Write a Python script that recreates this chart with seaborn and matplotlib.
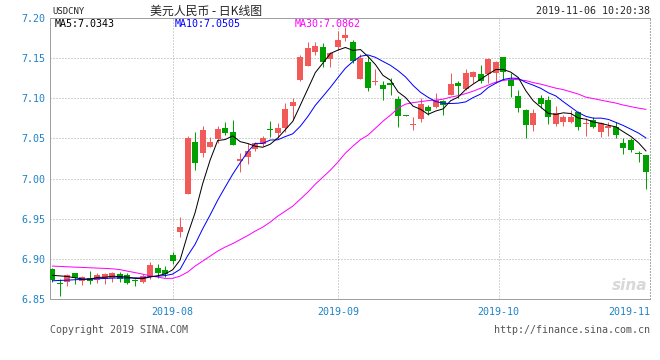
import numpy as np
import pandas as pd
import matplotlib
matplotlib.use("Agg")
import matplotlib.pyplot as plt
import seaborn as sns

# daily candles, USD/CNY
open_ = [6.8872, 6.8700, 6.8714, 6.8820, 6.8727, 6.8764, 6.8735, 6.8748, 6.8756, 6.8810,
         6.8798, 6.8727, 6.8714, 6.8769, 6.8888, 6.8860, 6.9047, 6.9337, 6.9803, 7.0454,
         7.0313, 7.0395, 7.0488, 7.0632, 7.0578, 7.0221, 7.0263, 7.0363, 7.0429, 7.0616,
         7.0570, 7.0625, 7.0906, 7.1226, 7.1404, 7.1579, 7.1633, 7.1488, 7.1633, 7.1745,
         7.1703, 7.1239, 7.1454, 7.1201, 7.1160, 7.1195, 7.0989, 7.0786, 7.0666, 7.0737,
         7.0886, 7.0894, 7.0965, 7.1043, 7.1192, 7.1110, 7.1267, 7.1301, 7.1297, 7.1310,
         7.1516, 7.1226, 7.1027, 7.0852, 7.0672, 7.1002, 7.0983, 7.0674, 7.0707, 7.0707,
         7.0824, 7.0674, 7.0728, 7.0582, 7.0632, 7.0644, 7.0438, 7.0479, 7.0313, 7.0292]
high = [6.8881, 6.8744, 6.8810, 6.8826, 6.8785, 6.8847, 6.8819, 6.8819, 6.8839, 6.8839,
        6.8819, 6.8748, 6.8810, 6.8963, 6.8935, 6.8913, 6.9080, 6.9524, 7.0529, 7.0582,
        7.0657, 7.0512, 7.0657, 7.0699, 7.0728, 7.0313, 7.0438, 7.0454, 7.0529, 7.0715,
        7.0687, 7.0936, 7.0998, 7.1537, 7.1703, 7.1696, 7.1683, 7.1579, 7.1840, 7.1889,
        7.1724, 7.1550, 7.1525, 7.1359, 7.1210, 7.1247, 7.1027, 7.0786, 7.0769, 7.0998,
        7.0921, 7.1064, 7.0977, 7.1313, 7.1214, 7.1359, 7.1342, 7.1413, 7.1496, 7.1467,
        7.1516, 7.1309, 7.1102, 7.0871, 7.0862, 7.1039, 7.1027, 7.0902, 7.0790, 7.0852,
        7.0840, 7.0749, 7.0769, 7.0707, 7.0699, 7.0707, 7.0500, 7.0500, 7.0346, 7.0292]
low = [6.8710, 6.8540, 6.8660, 6.8682, 6.8673, 6.8682, 6.8694, 6.8682, 6.8714, 6.8714,
       6.8682, 6.8664, 6.8702, 6.8744, 6.8757, 6.8769, 6.8935, 6.9267, 6.9803, 7.0105,
       7.0271, 7.0388, 7.0445, 7.0541, 7.0417, 7.0077, 7.0180, 7.0342, 7.0404, 7.0520,
       7.0500, 7.0582, 7.0728, 7.1214, 7.1404, 7.1537, 7.1384, 7.1392, 7.1600, 7.1716,
       7.1434, 7.1235, 7.1089, 7.1167, 7.0981, 7.1039, 7.0637, 7.0779, 7.0603, 7.0703,
       7.0790, 7.0884, 7.0790, 7.1039, 7.0998, 7.1102, 7.1185, 7.1185, 7.1185, 7.1192,
       7.1226, 7.1018, 7.0831, 7.0500, 7.0595, 7.0877, 7.0682, 7.0657, 7.0657, 7.0687,
       7.0603, 7.0532, 7.0625, 7.0520, 7.0532, 7.0507, 7.0301, 7.0333, 7.0201, 6.9865]
close = [6.8735, 6.8686, 6.8798, 6.8757, 6.8769, 6.8723, 6.8798, 6.8810, 6.8819, 6.8744,
         6.8694, 6.8719, 6.8789, 6.8922, 6.8819, 6.8810, 6.8976, 6.9399, 7.0507, 7.0189,
         7.0603, 7.0458, 7.0612, 7.0570, 7.0417, 7.0242, 7.0346, 7.0438, 7.0507, 7.0607,
         7.0632, 7.0861, 7.0956, 7.1516, 7.1621, 7.1649, 7.1447, 7.1559, 7.1724, 7.1787,
         7.1463, 7.1504, 7.1127, 7.1214, 7.1118, 7.1160, 7.0781, 7.0779, 7.0672, 7.0923,
         7.0846, 7.0983, 7.0915, 7.1176, 7.1155, 7.1317, 7.1322, 7.1217, 7.1488, 7.1447,
         7.1322, 7.1155, 7.0881, 7.0672, 7.0811, 7.0925, 7.0769, 7.0819, 7.0769, 7.0769,
         7.0644, 7.0694, 7.0644, 7.0687, 7.0653, 7.0541, 7.0383, 7.0354, 7.0301, 7.0084]

ma5 = [6.8795, 6.8788, 6.8780, 6.8765, 6.8749, 6.8747, 6.8769, 6.8771, 6.8784, 6.8779,
       6.8773, 6.8757, 6.8753, 6.8774, 6.8789, 6.8812, 6.8863, 6.8985, 6.9302, 6.9576,
       6.9935, 7.0231, 7.0474, 7.0486, 7.0532, 7.0460, 7.0437, 7.0403, 7.0390, 7.0428,
       7.0506, 7.0609, 7.0713, 7.0914, 7.1117, 7.1321, 7.1438, 7.1558, 7.1600, 7.1633,
       7.1596, 7.1607, 7.1521, 7.1419, 7.1285, 7.1225, 7.1080, 7.1010, 7.0902, 7.0863,
       7.0800, 7.0841, 7.0868, 7.0969, 7.1015, 7.1109, 7.1177, 7.1237, 7.1300, 7.1358,
       7.1359, 7.1326, 7.1259, 7.1095, 7.0968, 7.0889, 7.0812, 7.0799, 7.0819, 7.0810,
       7.0754, 7.0739, 7.0704, 7.0688, 7.0664, 7.0644, 7.0582, 7.0524, 7.0446, 7.0343]
ma10 = [6.8727, 6.8731, 6.8735, 6.8740, 6.8744, 6.8748, 6.8752, 6.8756, 6.8760, 6.8764,
        6.8760, 6.8763, 6.8762, 6.8779, 6.8784, 6.8792, 6.8810, 6.8869, 6.9038, 6.9182,
        6.9373, 6.9547, 6.9730, 6.9894, 7.0054, 7.0197, 7.0334, 7.0438, 7.0438, 7.0480,
        7.0483, 7.0523, 7.0558, 7.0652, 7.0773, 7.0913, 7.1023, 7.1136, 7.1257, 7.1375,
        7.1458, 7.1523, 7.1540, 7.1510, 7.1459, 7.1410, 7.1344, 7.1266, 7.1161, 7.1074,
        7.1012, 7.0960, 7.0939, 7.0935, 7.0939, 7.0955, 7.1009, 7.1053, 7.1134, 7.1187,
        7.1234, 7.1251, 7.1248, 7.1198, 7.1163, 7.1124, 7.1069, 7.1029, 7.0957, 7.0889,
        7.0821, 7.0775, 7.0752, 7.0753, 7.0737, 7.0699, 7.0660, 7.0614, 7.0567, 7.0505]
ma30 = [6.8910, 6.8906, 6.8901, 6.8897, 6.8893, 6.8889, 6.8885, 6.8881, 6.8876, 6.8866,
        6.8847, 6.8829, 6.8810, 6.8789, 6.8773, 6.8757, 6.8757, 6.8785, 6.8835, 6.8910,
        6.8972, 6.9034, 6.9097, 6.9147, 6.9190, 6.9240, 6.9290, 6.9346, 6.9395, 6.9458,
        6.9532, 6.9595, 6.9657, 6.9744, 6.9831, 6.9931, 7.0018, 7.0105, 7.0205, 7.0317,
        7.0404, 7.0485, 7.0541, 7.0628, 7.0715, 7.0790, 7.0877, 7.0927, 7.0946, 7.0958,
        7.0971, 7.0977, 7.0989, 7.1014, 7.1033, 7.1058, 7.1089, 7.1126, 7.1164, 7.1201,
        7.1222, 7.1235, 7.1232, 7.1220, 7.1195, 7.1176, 7.1151, 7.1126, 7.1108, 7.1080,
        7.1052, 7.1014, 7.0996, 7.0977, 7.0958, 7.0940, 7.0915, 7.0896, 7.0877, 7.0862]

month_labels = ["2019-08", "2019-09", "2019-10", "2019-11"]
month_pos = [16, 38, 59.4, 79.5]
y_ticks = [6.85, 6.90, 6.95, 7.00, 7.05, 7.10, 7.15, 7.20]

UP = "#f25a5a"
DOWN = "#00a000"
BLUE_TXT = "#1e82c8"
PX = 0.72  # one pixel in points at 100 dpi

sns.set_style("white")
plt.rcParams['font.family'] = ['DejaVu Sans Mono', 'Noto Sans CJK SC']

df = pd.DataFrame({'idx': np.arange(len(close)), 'open': open_, 'high': high,
                   'low': low, 'close': close, 'MA5': ma5, 'MA10': ma10, 'MA30': ma30})
df['up'] = df['close'] >= df['open']
colors = np.where(df['up'], UP, DOWN)

fig = plt.figure(figsize=(6.6, 3.6), dpi=100)
ax = fig.add_axes([50/660, 61/360, 600/660, 281/360])

# grid
for v in y_ticks:
    ax.axhline(v, color='#a8a8a8', lw=PX, ls=(0, (1, 2)), zorder=0)
for p in month_pos:
    ax.axvline(p, color='#a8a8a8', lw=PX, ls=(0, (1, 2)), zorder=0)

# candles
ax.vlines(df['idx'], df['low'], df['high'], colors=colors, lw=PX, zorder=2)
body_lo = np.minimum(df['open'], df['close'])
body_h = np.maximum(np.abs(df['close'] - df['open']), 0.0012)
ax.bar(df['idx'], body_h, bottom=body_lo, width=0.8, color=colors, lw=0, zorder=3)

# moving averages
sns.lineplot(data=df, x='idx', y='MA30', color='#ff00ff', lw=PX, ax=ax, zorder=4)
sns.lineplot(data=df, x='idx', y='MA10', color='#0000ff', lw=PX, ax=ax, zorder=4)
sns.lineplot(data=df, x='idx', y='MA5', color='black', lw=PX, ax=ax, zorder=5)

ax.set_xlim(-0.31, 79.53)
ax.set_ylim(6.85, 7.20)
ax.set_xlabel('')
ax.set_ylabel('')
ax.set_yticks(y_ticks, [f"{v:.2f}" for v in y_ticks])
ax.set_xticks(month_pos, month_labels)
ax.tick_params(length=0, labelsize=7.2, labelcolor=BLUE_TXT)
ax.tick_params(axis='y', pad=3)
ax.tick_params(axis='x', pad=5.5)
ax.get_xticklabels()[-1].set_ha('right')

for s in ['top', 'left', 'bottom']:
    ax.spines[s].set_color('#a0a0a0')
    ax.spines[s].set_linewidth(PX)
ax.spines['right'].set_color('#a8a8a8')
ax.spines['right'].set_linewidth(PX)
ax.spines['right'].set_linestyle((0, (1, 2)))

# header
fig.text(52/660, 1 - 11/360, "USDCNY", fontsize=6.5, va='center', ha='left')
fig.text(206/660, 1 - 11/360, "美元人民币 - 日K线图", fontsize=8.6, va='center', ha='center',
         family=['Noto Sans CJK SC', 'DejaVu Sans'])
fig.text(650/660, 1 - 11/360, "2019-11-06 10:20:38", fontsize=7.2, va='center', ha='right')

# MA legend
fig.text(55/660, 1 - 24/360, f"MA5:{ma5[-1]:.4f}", fontsize=7.2, color='black', va='center')
fig.text(175/660, 1 - 24/360, f"MA10:{ma10[-1]:.4f}", fontsize=7.2, color='#0000ff', va='center')
fig.text(295/660, 1 - 24/360, f"MA30:{ma30[-1]:.4f}", fontsize=7.2, color='#ff00ff', va='center')

# watermark
ax.text(0.995, 0.02, "sina", transform=ax.transAxes, ha='right', va='bottom',
        fontsize=11, style='italic', weight='bold', color='#d8d8d8',
        family='DejaVu Sans', zorder=1)

# footer
fig.text(50/660, 1 - 330/360, "Copyright 2019 SINA.COM", fontsize=7.2, color='#555555', va='center')
fig.text(650/660, 1 - 330/360, "http://finance.sina.com.cn", fontsize=7.2, color='#555555',
         va='center', ha='right')

fig.savefig("out.png", dpi=100)
